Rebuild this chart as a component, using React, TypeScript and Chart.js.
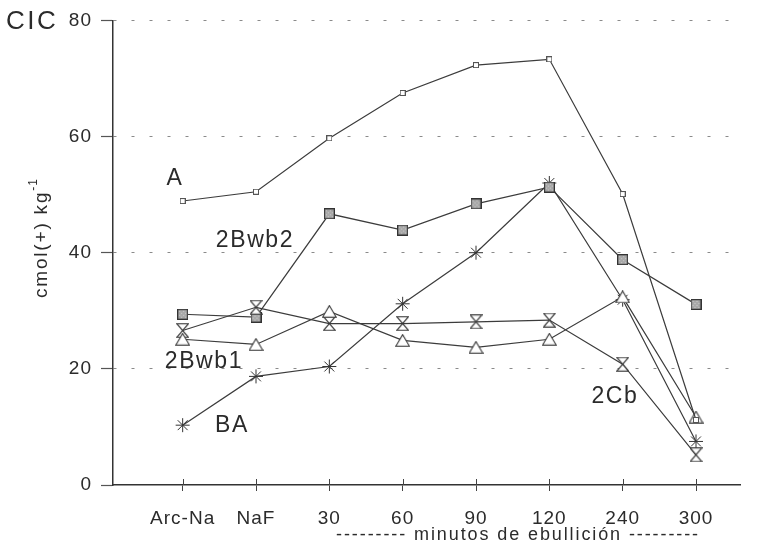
import React, { useEffect, useRef } from 'react';
import { Chart, registerables } from 'chart.js';

Chart.register(...registerables);

// ---- data ----
const categories = ['Arc-Na', 'NaF', '30', '60', '90', '120', '240', '300'];
const serieA = [48.9, 50.5, 59.7, 67.5, 72.3, 73.3, 50.1, 11.2];
const serie2Bwb2 = [29.4, 28.9, 46.7, 43.9, 48.4, 51.3, 38.8, 31.1];
const serie2Bwb1 = [25.1, 24.2, 29.9, 24.9, 23.7, 25.1, 32.4, 11.7];
const serie2Cb = [26.6, 30.6, 27.8, 27.8, 28.1, 28.4, 20.8, 5.2];
const serieBA = [10.3, 18.7, 20.4, 31.2, 40.0, 52.0, 31.9, 7.5];
const yTicks = [0, 20, 40, 60, 80];
const seriesNames = ['A', '2Bwb2', '2Bwb1', 'BA', '2Cb'];

const FONT = '"Liberation Sans", Arial, Helvetica, sans-serif';
const INK = '#2b2b2b';
const LINE = '#3c3c3c';

function makeCanvas(w: number, h: number, draw: (c: CanvasRenderingContext2D) => void) {
  const c = document.createElement('canvas');
  c.width = w;
  c.height = h;
  const ctx = c.getContext('2d')!;
  draw(ctx);
  return c;
}

const smallSquare = () =>
  makeCanvas(6, 6, (c) => {
    c.fillStyle = '#fff';
    c.fillRect(0, 0, 6, 6);
    c.strokeStyle = '#555';
    c.lineWidth = 1;
    c.strokeRect(0.5, 0.5, 5, 5);
  });

const graySquare = () =>
  makeCanvas(11, 11, (c) => {
    c.fillStyle = '#a9a9a9';
    c.fillRect(0, 0, 11, 11);
    c.fillStyle = '#d0d0d0';
    for (let i = 2; i < 10; i += 2) for (let j = 2; j < 10; j += 2) if ((i + j) % 4 === 0) c.fillRect(i, j, 1, 1);
    c.strokeStyle = '#333';
    c.lineWidth = 1.2;
    c.strokeRect(0.6, 0.6, 9.8, 9.8);
  });

const triangleUp = () =>
  makeCanvas(15, 13, (c) => {
    c.beginPath();
    c.moveTo(7.5, 0.7);
    c.lineTo(14.3, 12.3);
    c.lineTo(0.7, 12.3);
    c.closePath();
    c.fillStyle = '#fff';
    c.fill();
    c.strokeStyle = '#333';
    c.lineWidth = 1.1;
    c.stroke();
  });

const hourglass = () =>
  makeCanvas(13, 15, (c) => {
    c.beginPath();
    c.moveTo(0.7, 0.7);
    c.lineTo(12.3, 0.7);
    c.lineTo(0.7, 14.3);
    c.lineTo(12.3, 14.3);
    c.closePath();
    c.fillStyle = '#fff';
    c.fill();
    c.strokeStyle = '#333';
    c.lineWidth = 1.1;
    c.stroke();
  });

// label anchors in data coordinates (x = category index, y = value at text baseline)
const labelAnchors: { text: string; x: number; y: number }[] = [
  { text: seriesNames[0], x: -0.105, y: 51.7 },
  { text: seriesNames[1], x: 0.986, y: 40.9 },
  { text: seriesNames[2], x: 0.29, y: 20.1 },
  { text: seriesNames[3], x: 0.672, y: 9.1 },
  { text: seriesNames[4], x: 5.895, y: 14.2 },
];

const decoPlugin = {
  id: 'deco',
  beforeDraw(chart: any) {
    (chart.ctx as any).letterSpacing = '1px';
  },
  afterDraw(chart: any) {
    const ctx = chart.ctx as CanvasRenderingContext2D;
    const xs = chart.scales.x;
    const ys = chart.scales.y;
    const area = chart.chartArea;
    ctx.save();
    // upward part of x tick marks
    ctx.strokeStyle = '#444';
    ctx.lineWidth = 1;
    categories.forEach((_, i) => {
      const px = Math.round(xs.getPixelForValue(i)) + 0.5;
      ctx.beginPath();
      ctx.moveTo(px, area.bottom);
      ctx.lineTo(px, area.bottom - 6);
      ctx.stroke();
    });

    ctx.fillStyle = INK;
    (ctx as any).letterSpacing = '1.6px';
    ctx.font = `23px ${FONT}`;
    ctx.textAlign = 'center';
    ctx.textBaseline = 'alphabetic';
    for (const l of labelAnchors) {
      ctx.fillText(l.text, xs.getPixelForValue(l.x), ys.getPixelForValue(l.y));
    }

    // CIC
    (ctx as any).letterSpacing = '2.5px';
    ctx.font = `26px ${FONT}`;
    ctx.textAlign = 'left';
    ctx.fillText('CIC', 6, area.top + 9);

    // x title
    (ctx as any).letterSpacing = '1.9px';
    ctx.font = `18px ${FONT}`;
    ctx.textAlign = 'center';
    ctx.fillText('--------- minutos de ebullición ---------', xs.getPixelForValue(4.573), area.bottom + 55);

    // y title (rotated)
    ctx.translate(47, 238);
    ctx.rotate(-Math.PI / 2);
    (ctx as any).letterSpacing = '1.8px';
    ctx.font = `19px ${FONT}`;
    const main = 'cmol(+) kg';
    const sup = '-1';
    const w1 = ctx.measureText(main).width;
    ctx.font = `12px ${FONT}`;
    (ctx as any).letterSpacing = '1px';
    const w2 = ctx.measureText(sup).width;
    const start = -(w1 + w2) / 2;
    ctx.textAlign = 'left';
    ctx.font = `19px ${FONT}`;
    (ctx as any).letterSpacing = '1.8px';
    ctx.fillText(main, start, 0);
    ctx.font = `12px ${FONT}`;
    (ctx as any).letterSpacing = '1px';
    ctx.fillText(sup, start + w1, -10);
    ctx.restore();
    (ctx as any).letterSpacing = '0px';
  },
};

export default function App() {
  const ref = useRef<HTMLCanvasElement | null>(null);

  useEffect(() => {
    if (!ref.current) return;
    const toPts = (arr: number[]) => arr.map((v, i) => ({ x: i, y: v }));
    const common = {
      borderColor: LINE,
      borderWidth: 1.2,
      fill: false,
      tension: 0,
      pointRadius: 5,
      pointHoverRadius: 5,
    };
    const chart = new Chart(ref.current, {
      type: 'line',
      data: {
        datasets: [
          { ...common, label: seriesNames[0], data: toPts(serieA), pointStyle: smallSquare() as any },
          { ...common, label: seriesNames[2], data: toPts(serie2Bwb1), pointStyle: triangleUp() as any },
          { ...common, label: seriesNames[4], data: toPts(serie2Cb), pointStyle: hourglass() as any },
          { ...common, label: seriesNames[1], data: toPts(serie2Bwb2), pointStyle: graySquare() as any },
          {
            ...common,
            label: seriesNames[3],
            data: toPts(serieBA),
            pointStyle: 'star',
            pointRadius: 7,
            pointBorderColor: '#333',
            pointBorderWidth: 1,
          },
        ],
      },
      options: {
        animation: false,
        responsive: false,
        events: [],
        layout: { padding: { left: 0, right: 23, top: 19, bottom: 0 } },
        plugins: { legend: { display: false }, tooltip: { enabled: false } },
        scales: {
          x: {
            type: 'linear',
            min: -0.95,
            max: 7.6,
            afterFit: (s: any) => {
              s.height = 63;
            },
            afterBuildTicks: (s: any) => {
              s.ticks = categories.map((_, i) => ({ value: i }));
            },
            ticks: {
              autoSkip: false,
              maxRotation: 0,
              padding: 16,
              color: INK,
              font: { family: FONT, size: 19 },
              callback: (v: any) => categories[v as number] ?? '',
            },
            grid: {
              drawOnChartArea: false,
              drawTicks: true,
              tickLength: 6,
              tickColor: '#444',
              tickWidth: 1,
            },
            border: { display: true, color: '#333', width: 1.5 },
          },
          y: {
            type: 'linear',
            min: 0,
            max: 80,
            afterFit: (s: any) => {
              s.width = 113;
            },
            afterBuildTicks: (s: any) => {
              s.ticks = yTicks.map((v) => ({ value: v }));
            },
            ticks: {
              padding: 9,
              color: INK,
              font: { family: FONT, size: 19 },
            },
            grid: {
              color: (c: any) => (c.tick && c.tick.value === 0 ? 'rgba(0,0,0,0)' : '#8a8a8a'),
              lineWidth: 1,
              tickLength: 12,
              tickColor: '#555',
              tickWidth: 1.2,
            },
            border: { display: true, color: '#333', width: 1.5, dash: [3, 15] },
          },
        },
      },
      plugins: [decoPlugin],
    });
    return () => chart.destroy();
  }, []);

  return (
    <div style={{ position: 'absolute', left: 0, top: 0, width: 763, height: 548, background: '#fff' }}>
      <canvas ref={ref} width={763} height={548} style={{ display: 'block' }} />
    </div>
  );
}
